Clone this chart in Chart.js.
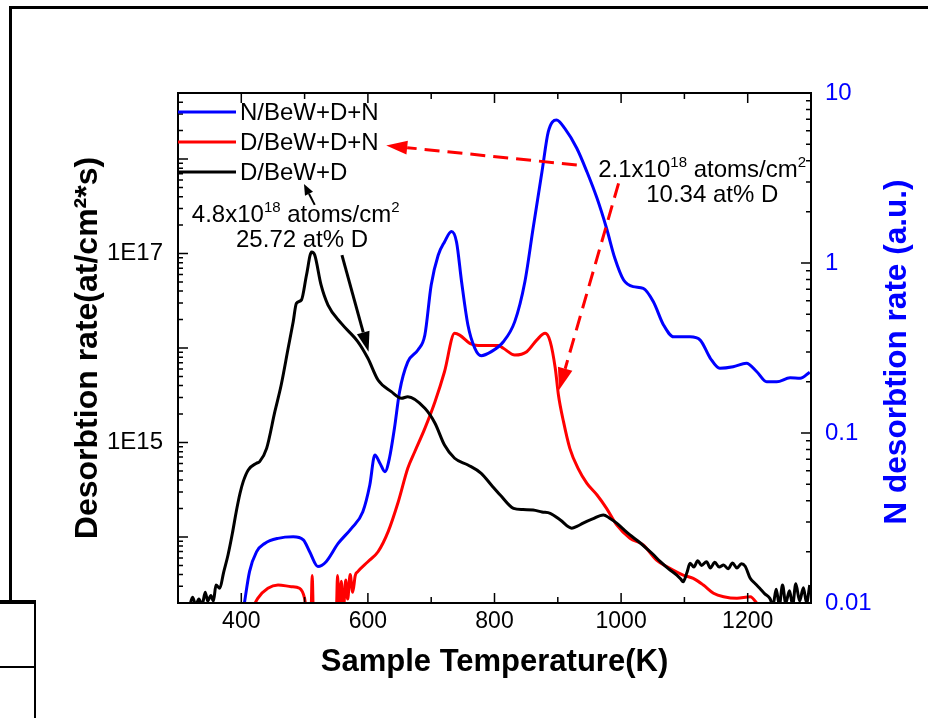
<!DOCTYPE html>
<html>
<head>
<meta charset="utf-8">
<script src="https://cdn.jsdelivr.net/npm/chart.js@4.4.1/dist/chart.umd.min.js"></script>
<style>
    html, body { margin: 0; padding: 0; background: #fff; }
    #wrap { position: relative; width: 928px; height: 718px; overflow: hidden; }
    #wrap canvas { position: absolute; left: 0; top: 0; }
    .edge { position: absolute; background: #000; }
</style>
</head>
<body>
<div id="wrap">
    <!-- frame of the original figure -->
    <div class="edge" style="left:9px; top:6px; width:919px; height:3px;"></div>
    <div class="edge" style="left:9px; top:6px; width:3px; height:596px;"></div>
    <div class="edge" style="left:0; top:600px; width:36px; height:4px;"></div>
    <div class="edge" style="left:34px; top:600px; width:2px; height:118px;"></div>
    <div class="edge" style="left:0; top:666px; width:35px; height:2px;"></div>
    <canvas id="chart" width="928" height="718"></canvas>
</div>
<script>
// --- Data ---
const blueTemp = [404, 413, 424, 437, 458, 482, 498, 508, 521, 534, 553, 574, 592, 603, 611, 619, 627, 634, 642, 650, 663, 679, 690, 700, 711, 721, 732, 740, 748, 758, 769, 779, 795, 814, 832, 848, 861, 875, 885, 898, 911, 930, 946, 962, 977, 990, 1004, 1019, 1035, 1051, 1067, 1083, 1109, 1125, 1141, 1156, 1177, 1198, 1214, 1230, 1246, 1267, 1283, 1298];
const blueRate = [0.0095, 0.0153, 0.0200, 0.0224, 0.0240, 0.0245, 0.0235, 0.0200, 0.0164, 0.0175, 0.0224, 0.0275, 0.0344, 0.0494, 0.0743, 0.0664, 0.0592, 0.0710, 0.107, 0.175, 0.262, 0.308, 0.377, 0.743, 1.11, 1.33, 1.53, 1.33, 0.776, 0.432, 0.315, 0.285, 0.301, 0.344, 0.452, 0.776, 1.60, 3.44, 5.92, 6.93, 6.19, 4.73, 3.44, 2.40, 1.60, 1.07, 0.794, 0.726, 0.710, 0.592, 0.432, 0.368, 0.368, 0.352, 0.275, 0.240, 0.245, 0.257, 0.230, 0.200, 0.200, 0.211, 0.210, 0.228];

const redTemp = [413, 426, 442, 458, 479, 492, 500, 504, 510, 512, 514, 550, 552, 555, 558, 561, 565, 568, 572, 576, 580, 584, 600, 616, 632, 648, 663, 674, 690, 706, 721, 737, 745, 761, 774, 806, 814, 832, 851, 867, 880, 888, 896, 901, 909, 919, 932, 946, 962, 977, 993, 1014, 1035, 1056, 1077, 1098, 1114, 1130, 1146, 1162, 1183, 1204, 1214, 1225];
const redRate = [1.5e13, 2.24e13, 2.86e13, 3.10e13, 2.98e13, 2.86e13, 2.24e13, 1.5e13, 1.5e13, 3.9e13, 1.5e13, 1.5e13, 3.9e13, 1.5e13, 3.4e13, 1.6e13, 3.5e13, 2.2e13, 4.0e13, 2.6e13, 3.9e13, 4.29e13, 5.47e13, 6.98e13, 1.14e14, 2.36e14, 5.33e14, 7.98e14, 1.41e15, 2.70e15, 5.61e15, 1.43e16, 1.37e16, 1.12e16, 1.06e16, 1.06e16, 9.93e15, 8.43e15, 9.14e15, 1.22e16, 1.43e16, 1.17e16, 6.10e15, 3.18e15, 1.66e15, 8.67e14, 5.33e14, 3.70e14, 2.78e14, 2.01e14, 1.34e14, 9.68e13, 8.22e13, 5.70e13, 4.66e13, 3.95e13, 3.65e13, 3.10e13, 2.54e13, 2.33e13, 2.24e13, 2.33e13, 2.0e13, 1.5e13];

const blackTemp = [318, 323, 328, 333, 338, 343, 347, 352, 356, 360, 366, 372, 379, 386, 392, 398, 403, 411, 424, 429, 440, 453, 463, 474, 482, 487, 495, 503, 511, 516, 526, 537, 558, 584, 600, 616, 637, 653, 663, 690, 706, 721, 737, 758, 779, 795, 809, 830, 845, 861, 875, 888, 904, 922, 931, 940, 955, 972, 982, 993, 1004, 1014, 1027, 1040, 1050, 1062, 1075, 1088, 1094, 1098, 1104, 1109, 1115, 1121, 1127, 1135, 1141, 1148, 1155, 1162, 1169, 1176, 1183, 1190, 1196, 1204, 1212, 1219, 1227, 1235, 1240, 1245, 1250, 1255, 1260, 1266, 1271, 1276, 1282, 1288, 1293, 1298];
const blackRate = [1.8e13, 2.3e13, 1.9e13, 2.2e13, 1.9e13, 2.6e13, 2.1e13, 2.4e13, 2.1e13, 3.1e13, 2.86e13, 4.2e13, 6.44e13, 1.1e14, 1.85e14, 2.9e14, 3.85e14, 5.12e14, 6.03e14, 6.27e14, 8.67e14, 2.12e15, 4.06e15, 9.93e15, 1.90e16, 2.97e16, 3.22e16, 5.93e16, 1.04e17, 9.64e16, 4.65e16, 2.85e16, 1.82e16, 1.17e16, 7.78e15, 4.58e15, 3.45e15, 2.94e15, 3.05e15, 2.30e15, 1.60e15, 9.40e14, 6.81e14, 5.78e14, 4.72e14, 3.55e14, 2.78e14, 2.01e14, 1.95e14, 1.93e14, 1.84e14, 1.78e14, 1.51e14, 1.24e14, 1.30e14, 1.40e14, 1.55e14, 1.71e14, 1.58e14, 1.40e14, 1.20e14, 1.05e14, 9.0e13, 7.59e13, 6.6e13, 5.47e13, 4.6e13, 3.95e13, 3.6e13, 3.36e13, 4.2e13, 5.26e13, 4.8e13, 5.6e13, 5.0e13, 5.47e13, 4.7e13, 5.4e13, 4.8e13, 5.05e13, 4.6e13, 5.3e13, 4.7e13, 5.2e13, 4.9e13, 3.65e13, 3.2e13, 2.86e13, 2.5e13, 2.24e13, 1.9e13, 2.8e13, 1.9e13, 3.1e13, 2.0e13, 2.7e13, 1.9e13, 3.2e13, 2.1e13, 2.9e13, 2.0e13, 3.1e13];

const seriesNames = ['N/BeW+D+N', 'D/BeW+D+N', 'D/BeW+D'];
const seriesColors = ['#0000ff', '#ff0000', '#000000'];

const xTickValues = [400, 600, 800, 1000, 1200];
const leftTickValues = [1e15, 1e17];
const leftTickLabels = ['1E15', '1E17'];
const rightTickValues = [0.01, 0.1, 1, 10];
const rightTickLabels = ['0.01', '0.1', '1', '10'];

// annotations, placed in data units (K, left-axis rate)
const notes = [
    { x: 486, y: 2.17e17, parts: [['4.8x10', 0], ['18', 1], [' atoms/cm', 0], ['2', 1]] },
    { x: 496, y: 1.18e17, parts: [['25.72 at% D', 0]] },
    { x: 1128, y: 6.5e17, parts: [['2.1x10', 0], ['18', 1], [' atoms/cm', 0], ['2', 1]] },
    { x: 1144, y: 3.53e17, parts: [['10.34 at% D', 0]] }
];
const arrows = [
    { from: [516, 3.27e17], to: [499, 5.45e17], color: '#000', dash: [], width: 2, head: [11, 9] },
    { from: [559, 9.64e16], to: [601, 9.14e15], color: '#000', dash: [], width: 3, head: [20, 13] },
    { from: [930, 8.65e17], to: [629, 1.39e18], color: '#ff0000', dash: [15, 8], width: 3, head: [21, 14] },
    { from: [996, 5.53e17], to: [902, 3.6e15], color: '#ff0000', dash: [15, 8], width: 3, head: [22, 15] }
];

const FONT = "'Liberation Sans', Arial, sans-serif";

const toPoints = (xs, ys) => xs.map((x, i) => ({ x, y: ys[i] }));

function logTickList(min, max) {
    const out = [];
    for (let d = Math.floor(Math.log10(min)); d <= Math.ceil(Math.log10(max)); d++) {
        for (let m = 1; m <= 9; m++) {
            const v = m * Math.pow(10, d);
            if (v >= min * 0.999 && v <= max * 1.001) out.push({ v, major: m === 1 });
        }
    }
    return out;
}

function drawRich(ctx, parts, cx, baseY) {
    const base = `24px ${FONT}`, sup = `15px ${FONT}`;
    let total = 0;
    parts.forEach(([t, s]) => { ctx.font = s ? sup : base; total += ctx.measureText(t).width; });
    let x = cx - total / 2;
    parts.forEach(([t, s]) => {
        ctx.font = s ? sup : base;
        ctx.fillText(t, x, s ? baseY - 10 : baseY);
        x += ctx.measureText(t).width;
    });
}

// box, inner ticks, legend, right title and notes
const decorations = {
    id: 'decorations',
    afterDatasetsDraw(chart) {
        const { ctx, chartArea: a, scales } = chart;
        ctx.save();
        ctx.strokeStyle = '#000';
        ctx.lineWidth = 2;
        ctx.strokeRect(a.left, a.top, a.right - a.left, a.bottom - a.top);

        ctx.lineWidth = 1.5;
        ctx.beginPath();
        for (let t = 300; t <= 1300; t += 100) {
            const px = scales.x.getPixelForValue(t);
            const len = t % 200 === 0 ? 10 : 6;
            ctx.moveTo(px, a.bottom); ctx.lineTo(px, a.bottom - len);
            ctx.moveTo(px, a.top); ctx.lineTo(px, a.top + len);
        }
        logTickList(scales.y.min, scales.y.max).forEach(t => {
            const py = scales.y.getPixelForValue(t.v);
            ctx.moveTo(a.left, py); ctx.lineTo(a.left + (t.major ? 10 : 5), py);
        });
        logTickList(scales.y2.min, scales.y2.max).forEach(t => {
            const py = scales.y2.getPixelForValue(t.v);
            ctx.moveTo(a.right, py); ctx.lineTo(a.right - (t.major ? 10 : 5), py);
        });
        ctx.stroke();
        ctx.restore();
    },
    afterDraw(chart) {
        const { ctx, chartArea: a, scales } = chart;
        ctx.save();

        // legend (top-left, inside the box)
        [0, 1, 2].forEach((k, i) => {
            const y = a.top + 19 + i * 30;
            ctx.strokeStyle = seriesColors[k];
            ctx.lineWidth = 3;
            ctx.beginPath();
            ctx.moveTo(a.left, y); ctx.lineTo(a.left + 58, y);
            ctx.stroke();
            ctx.fillStyle = '#000';
            ctx.font = `24px ${FONT}`;
            ctx.textBaseline = 'middle';
            ctx.textAlign = 'left';
            ctx.fillText(seriesNames[k], a.left + 62, y + 1);
        });

        // right axis title, reading upwards
        ctx.save();
        ctx.translate(a.right + 86, (a.top + a.bottom) / 2 + 4);
        ctx.rotate(-Math.PI / 2);
        ctx.fillStyle = '#0000ff';
        ctx.font = `bold 31.5px ${FONT}`;
        ctx.textAlign = 'center';
        ctx.textBaseline = 'middle';
        ctx.fillText('N desorbtion rate (a.u.)', 0, 0);
        ctx.restore();

        // arrows
        arrows.forEach(ar => {
            const x0 = scales.x.getPixelForValue(ar.from[0]), y0 = scales.y.getPixelForValue(ar.from[1]);
            const x1 = scales.x.getPixelForValue(ar.to[0]), y1 = scales.y.getPixelForValue(ar.to[1]);
            const ang = Math.atan2(y1 - y0, x1 - x0);
            const [hl, hw] = ar.head;
            const bx = x1 - hl * Math.cos(ang), by = y1 - hl * Math.sin(ang);
            ctx.strokeStyle = ar.color;
            ctx.fillStyle = ar.color;
            ctx.lineWidth = ar.width;
            ctx.setLineDash(ar.dash);
            ctx.beginPath();
            ctx.moveTo(x0, y0); ctx.lineTo(bx, by);
            ctx.stroke();
            ctx.setLineDash([]);
            ctx.beginPath();
            ctx.moveTo(x1, y1);
            ctx.lineTo(bx + hw / 2 * Math.sin(ang), by - hw / 2 * Math.cos(ang));
            ctx.lineTo(bx - hw / 2 * Math.sin(ang), by + hw / 2 * Math.cos(ang));
            ctx.closePath();
            ctx.fill();
        });

        // notes
        ctx.fillStyle = '#000';
        ctx.textAlign = 'left';
        ctx.textBaseline = 'alphabetic';
        notes.forEach(n => {
            drawRich(ctx, n.parts, scales.x.getPixelForValue(n.x), scales.y.getPixelForValue(n.y));
        });
        ctx.restore();
    }
};

new Chart(document.getElementById('chart'), {
    type: 'line',
    data: {
        datasets: [
            { label: seriesNames[2], data: toPoints(blackTemp, blackRate), borderColor: seriesColors[2], yAxisID: 'y', cubicInterpolationMode: 'monotone' },
            { label: seriesNames[0], data: toPoints(blueTemp, blueRate), borderColor: seriesColors[0], yAxisID: 'y2', cubicInterpolationMode: 'monotone' },
            { label: seriesNames[1], data: toPoints(redTemp, redRate), borderColor: seriesColors[1], yAxisID: 'y', cubicInterpolationMode: 'monotone' }
        ]
    },
    options: {
        responsive: false,
        animation: false,
        elements: { point: { radius: 0 }, line: { borderWidth: 3, fill: false } },
        layout: { padding: { top: 93, left: 0, right: 0, bottom: 0 } },
        plugins: { legend: { display: false }, tooltip: { enabled: false } },
        scales: {
            x: {
                type: 'linear', position: 'bottom', min: 300, max: 1300,
                grid: { display: false, drawTicks: false }, border: { display: false },
                afterBuildTicks: s => { s.ticks = xTickValues.map(v => ({ value: v })); },
                afterFit: s => { s.height = 115; },
                ticks: { autoSkip: false, maxRotation: 0, padding: 5, color: '#000', font: { family: FONT, size: 23 }, callback: v => String(v) },
                title: { display: true, text: 'Sample Temperature(K)', color: '#000', font: { family: FONT, size: 31, weight: 'bold' }, padding: { top: 0, bottom: 37 } }
            },
            y: {
                type: 'logarithmic', position: 'left', min: 2e13, max: 5e18,
                grid: { display: false, drawTicks: false }, border: { display: false },
                afterBuildTicks: s => { s.ticks = leftTickValues.map(v => ({ value: v })); },
                afterFit: s => { s.width = 178; },
                ticks: { autoSkip: false, padding: 15, color: '#000', font: { family: FONT, size: 24 }, callback: (v, i) => leftTickLabels[i] },
                title: { display: true, text: 'Desorbtion rate(at/cm²*s)', color: '#000', font: { family: FONT, size: 32, weight: 'bold' }, padding: { top: 69, bottom: 0 } }
            },
            y2: {
                type: 'logarithmic', position: 'right', min: 0.01, max: 10,
                grid: { display: false, drawTicks: false }, border: { display: false },
                afterBuildTicks: s => { s.ticks = rightTickValues.map(v => ({ value: v })); },
                afterFit: s => { s.width = 117; },
                ticks: { autoSkip: false, padding: 14, color: '#0000ff', font: { family: FONT, size: 24 }, callback: (v, i) => rightTickLabels[i] }
            }
        }
    },
    plugins: [decorations]
});
</script>
</body>
</html>
